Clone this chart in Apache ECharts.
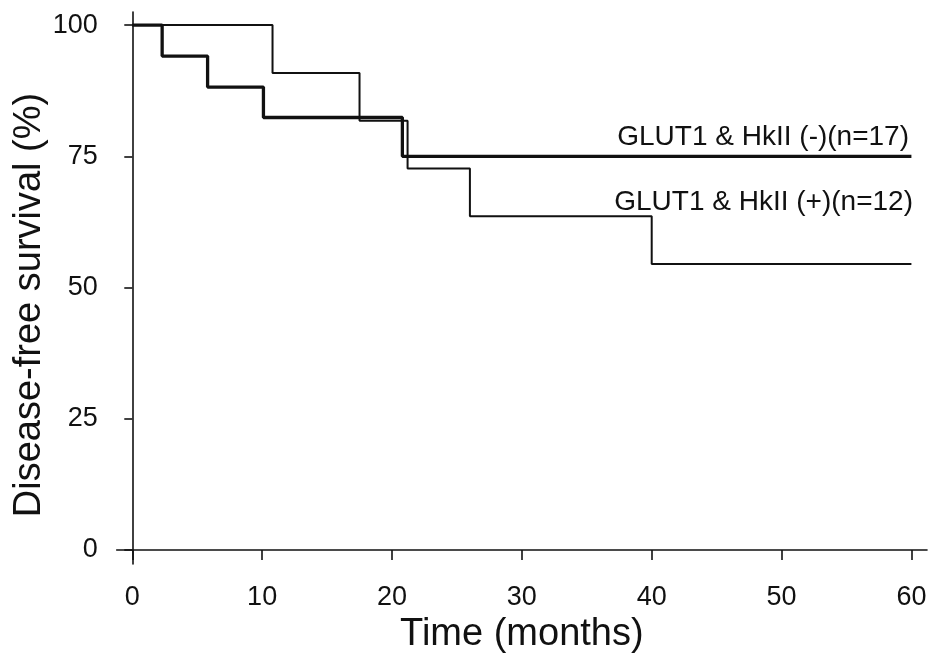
<!DOCTYPE html>
<html>
<head>
<meta charset="utf-8">
<script src="https://cdn.jsdelivr.net/npm/echarts@6/dist/echarts.min.js"></script>
<style>
html,body{margin:0;padding:0;background:#fff;}
#chart{width:945px;height:667px;}
</style>
</head>
<body>
<div id="chart"></div>
<script>
// Kaplan-Meier step data: [time (months), survival (%)]
var negTimes = [0, 2.3, 5.8, 10.1, 20.8, 60];
var negSurvival = [100, 94.1, 88.2, 82.4, 75.0, 75.0];
var posTimes = [0, 10.8, 17.5, 21.2, 26.0, 40.0, 60];
var posSurvival = [100, 90.9, 81.8, 72.7, 63.6, 54.5, 54.5];
var xTicks = [0, 10, 20, 30, 40, 50, 60];
var yTicks = [0, 25, 50, 75, 100];
var negName = 'GLUT1 & HkII (-)(n=17)';
var posName = 'GLUT1 & HkII (+)(n=12)';
var xTitle = 'Time (months)';
var yTitle = 'Disease-free survival (%)';

function pairs(xs, ys){ return xs.map(function(x,i){ return [x, ys[i]]; }); }

var chart = echarts.init(document.getElementById('chart'));
var font = 'Liberation Sans, Arial, Helvetica, sans-serif';
chart.setOption({
  animation: false,
  backgroundColor: '#fff',
  grid: {left: 116.7, top: 12, width: 810.3, height: 552, containLabel: false, outerBoundsMode: 'none'},
  xAxis: {
    type: 'value', min: -1.2, max: 61.2,
    splitLine: {show: false},
    axisLine: {show: true, lineStyle: {color: '#111', width: 1.6}},
    axisTick: {show: true, length: 10, lineStyle: {color: '#111', width: 1.6}, customValues: xTicks},
    axisLabel: {customValues: xTicks, margin: 20, fontSize: 27, color: '#111', fontFamily: font},
    name: xTitle, nameLocation: 'middle', nameGap: 50,
    nameTextStyle: {fontSize: 38, color: '#111', fontFamily: font}
  },
  yAxis: {
    type: 'value', min: -2.67, max: 102.5,
    splitLine: {show: false},
    axisLine: {show: true, lineStyle: {color: '#111', width: 1.6}},
    axisTick: {show: true, length: 8, lineStyle: {color: '#111', width: 1.6}, customValues: yTicks},
    axisLabel: {customValues: yTicks, margin: 19, fontSize: 27, color: '#111', fontFamily: font}
  },
  graphic: [
    {type: 'text', x: 30, y: 305, rotation: Math.PI/2,
     style: {text: yTitle, fontSize: 38, fontFamily: font, fill: '#111', align: 'center', verticalAlign: 'middle'}},
    {type: 'text', x: 909, y: 137,
     style: {text: negName, fontSize: 28, fontFamily: font, fill: '#111', align: 'right', verticalAlign: 'middle'}},
    {type: 'text', x: 913, y: 202,
     style: {text: posName, fontSize: 28, fontFamily: font, fill: '#111', align: 'right', verticalAlign: 'middle'}}
  ],
  series: [
    {name: negName, type: 'line', step: 'end', symbol: 'none', data: pairs(negTimes, negSurvival),
     lineStyle: {color: '#111', width: 3.3}, z: 3},
    {name: posName, type: 'line', step: 'end', symbol: 'none', data: pairs(posTimes, posSurvival),
     lineStyle: {color: '#111', width: 2}, z: 2}
  ]
});
</script>
</body>
</html>
